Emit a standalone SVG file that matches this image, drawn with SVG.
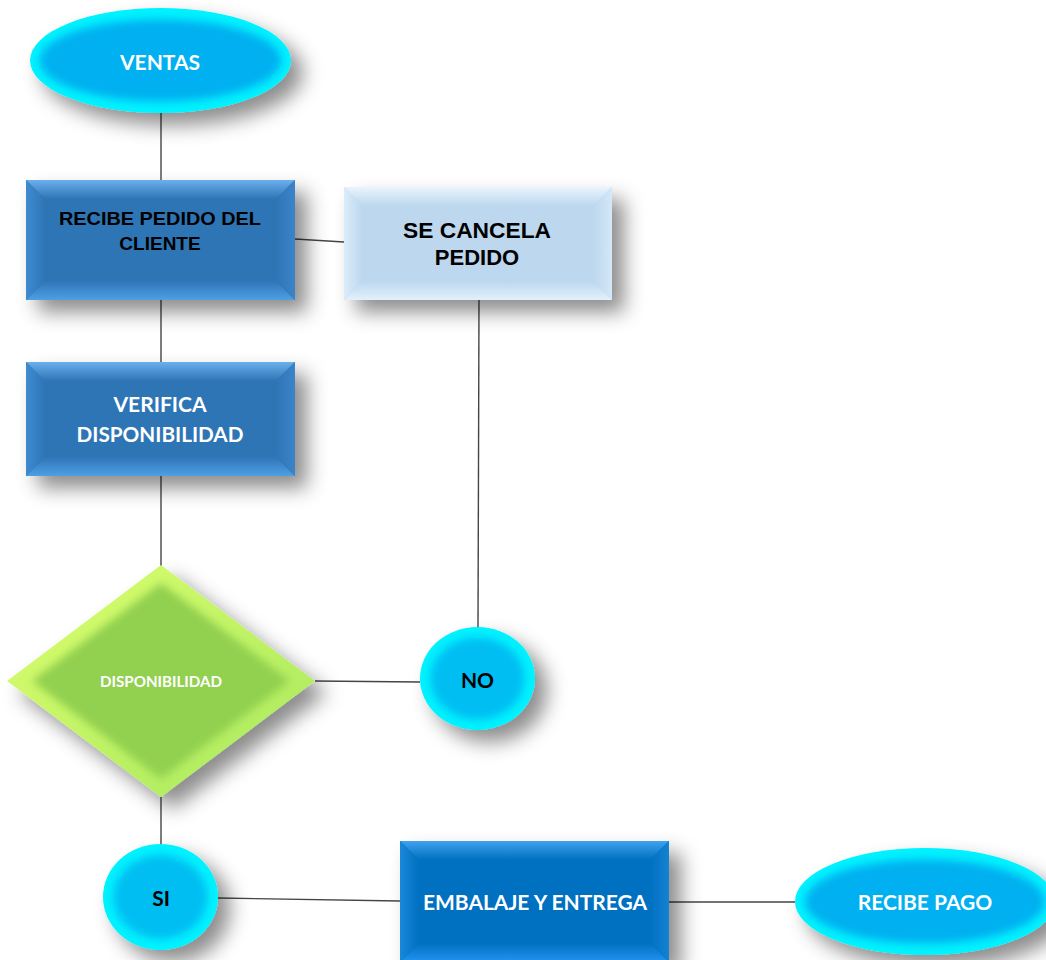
<svg xmlns="http://www.w3.org/2000/svg" width="1046" height="960" viewBox="0 0 1046 960">
  <style>
    .cal { font-family: Lato, "Open Sans", "Liberation Sans", sans-serif; font-weight: bold; text-anchor: middle; }
    .ari { font-family: "Liberation Sans", Arial, sans-serif; font-weight: bold; text-anchor: middle; fill: #000; }
    .w { fill: #ffffff; }
    .k { fill: #000000; }
    .conn line { stroke: #454545; stroke-width: 1.4; fill: none; }
    .sh { filter: url(#shadow); }
    .soft { filter: url(#soft); }
  </style>
  <defs>
    <filter id="shadow" x="-30%" y="-30%" width="180%" height="190%">
      <feDropShadow dx="12" dy="12" stdDeviation="10" flood-color="#000" flood-opacity="0.45"/>
    </filter>
    <filter id="soft" x="-20%" y="-20%" width="140%" height="140%">
      <feGaussianBlur stdDeviation="4"/>
    </filter>
    <linearGradient id="sbT" x1="0" y1="0" x2="0" y2="1"><stop offset="0" stop-color="#6BB0EC"/><stop offset="1" stop-color="#2E75B6"/></linearGradient>
    <linearGradient id="sbB" x1="0" y1="0" x2="0" y2="1"><stop offset="0" stop-color="#2E75B6"/><stop offset="1" stop-color="#4E9FE4"/></linearGradient>
    <linearGradient id="sbL" x1="0" y1="0" x2="1" y2="0"><stop offset="0" stop-color="#3F8BD0"/><stop offset="1" stop-color="#2E75B6"/></linearGradient>
    <linearGradient id="sbR" x1="0" y1="0" x2="1" y2="0"><stop offset="0" stop-color="#2E75B6"/><stop offset="1" stop-color="#3A84C8"/></linearGradient>
    <linearGradient id="bbT" x1="0" y1="0" x2="0" y2="1"><stop offset="0" stop-color="#3FA2EE"/><stop offset="1" stop-color="#0070C0"/></linearGradient>
    <linearGradient id="bbB" x1="0" y1="0" x2="0" y2="1"><stop offset="0" stop-color="#0070C0"/><stop offset="1" stop-color="#2294F0"/></linearGradient>
    <linearGradient id="bbL" x1="0" y1="0" x2="1" y2="0"><stop offset="0" stop-color="#1A88DA"/><stop offset="1" stop-color="#0070C0"/></linearGradient>
    <linearGradient id="bbR" x1="0" y1="0" x2="1" y2="0"><stop offset="0" stop-color="#0070C0"/><stop offset="1" stop-color="#1582D2"/></linearGradient>
    <linearGradient id="lbT" x1="0" y1="0" x2="0" y2="1"><stop offset="0" stop-color="#EAF4FD"/><stop offset="1" stop-color="#BDD7EE"/></linearGradient>
    <linearGradient id="lbB" x1="0" y1="0" x2="0" y2="1"><stop offset="0" stop-color="#BDD7EE"/><stop offset="1" stop-color="#E2F0FC"/></linearGradient>
    <linearGradient id="lbL" x1="0" y1="0" x2="1" y2="0"><stop offset="0" stop-color="#DCECFA"/><stop offset="1" stop-color="#BDD7EE"/></linearGradient>
    <linearGradient id="lbR" x1="0" y1="0" x2="1" y2="0"><stop offset="0" stop-color="#BDD7EE"/><stop offset="1" stop-color="#D4E8F8"/></linearGradient>
    <linearGradient id="dmO" x1="0" y1="0" x2="1" y2="1"><stop offset="0" stop-color="#DDFF6E"/><stop offset="1" stop-color="#A6E85E"/></linearGradient>
  </defs>

  <g id="connectors" class="conn">
    <line x1="161" y1="113" x2="161" y2="180"/>
    <line x1="161" y1="300" x2="161" y2="362"/>
    <line x1="161" y1="476" x2="161" y2="566"/>
    <line x1="295" y1="239" x2="344" y2="242"/>
    <line x1="479" y1="300" x2="478" y2="628"/>
    <line x1="315" y1="681" x2="420" y2="682"/>
    <line x1="161" y1="797" x2="161" y2="845"/>
    <line x1="218" y1="898" x2="400" y2="901"/>
    <line x1="669" y1="902" x2="795" y2="902"/>
  </g>

  <g id="ventas">
    <ellipse class="sh" cx="160.5" cy="60.5" rx="130.5" ry="52.5" fill="#00F2FF"/>
    <ellipse class="soft" cx="160.5" cy="60.5" rx="121" ry="41" fill="#00B0F0"/>
    <text class="cal w" x="160" y="70" font-size="21">VENTAS</text>
  </g>

  <g id="recibe-pedido">
    <rect class="sh" x="26" y="180" width="269" height="120" fill="#2E75B6"/>
    <polygon points="26,180 295,180 276,199 45,199" fill="url(#sbT)"/>
    <polygon points="45,281 276,281 295,300 26,300" fill="url(#sbB)"/>
    <polygon points="26,180 45,199 45,281 26,300" fill="url(#sbL)"/>
    <polygon points="276,199 295,180 295,300 276,281" fill="url(#sbR)"/>
    <text class="ari" x="160" y="225" font-size="19" textLength="202" lengthAdjust="spacingAndGlyphs">RECIBE PEDIDO DEL</text>
    <text class="ari" x="160" y="250" font-size="19">CLIENTE</text>
  </g>

  <g id="se-cancela">
    <rect class="sh" x="344" y="187" width="268" height="113" fill="#BDD7EE"/>
    <polygon points="344,187 612,187 593,206 363,206" fill="url(#lbT)"/>
    <polygon points="363,281 593,281 612,300 344,300" fill="url(#lbB)"/>
    <polygon points="344,187 363,206 363,281 344,300" fill="url(#lbL)"/>
    <polygon points="593,206 612,187 612,300 593,281" fill="url(#lbR)"/>
    <text class="ari" x="477" y="238" font-size="22" textLength="148" lengthAdjust="spacingAndGlyphs">SE CANCELA</text>
    <text class="ari" x="477" y="265" font-size="22">PEDIDO</text>
  </g>

  <g id="verifica">
    <rect class="sh" x="26" y="362" width="269" height="114" fill="#2E75B6"/>
    <polygon points="26,362 295,362 276,381 45,381" fill="url(#sbT)"/>
    <polygon points="45,457 276,457 295,476 26,476" fill="url(#sbB)"/>
    <polygon points="26,362 45,381 45,457 26,476" fill="url(#sbL)"/>
    <polygon points="276,381 295,362 295,476 276,457" fill="url(#sbR)"/>
    <text class="cal w" x="160" y="412" font-size="21">VERIFICA</text>
    <text class="cal w" x="160" y="442" font-size="21" textLength="167" lengthAdjust="spacingAndGlyphs">DISPONIBILIDAD</text>
  </g>

  <g id="disponibilidad">
    <polygon class="sh" points="161,565 315,681 161,797 7,681" fill="url(#dmO)"/>
    <polygon class="soft" points="161,583 290,681 161,779 32,681" fill="#92D050"/>
    <text class="cal w" x="161" y="687" font-size="15" textLength="122" lengthAdjust="spacingAndGlyphs">DISPONIBILIDAD</text>
  </g>

  <g id="no">
    <ellipse class="sh" cx="477.5" cy="678.5" rx="57.5" ry="51.5" fill="#00F2FF"/>
    <ellipse class="soft" cx="477.5" cy="678.5" rx="47" ry="41" fill="#00BEF2"/>
    <text class="cal k" x="477.5" y="688" font-size="21">NO</text>
  </g>

  <g id="si">
    <ellipse class="sh" cx="160.5" cy="897" rx="57.5" ry="53" fill="#00F2FF"/>
    <ellipse class="soft" cx="160.5" cy="897" rx="47" ry="42" fill="#00BEF2"/>
    <text class="cal k" x="161" y="906" font-size="21">SI</text>
  </g>

  <g id="embalaje">
    <rect class="sh" x="400" y="841" width="269" height="121" fill="#0070C0"/>
    <polygon points="400,841 669,841 650,860 419,860" fill="url(#bbT)"/>
    <polygon points="419,943 650,943 669,962 400,962" fill="url(#bbB)"/>
    <polygon points="400,841 419,860 419,943 400,962" fill="url(#bbL)"/>
    <polygon points="650,860 669,841 669,962 650,943" fill="url(#bbR)"/>
    <text class="cal w" x="535" y="910" font-size="21" textLength="224" lengthAdjust="spacingAndGlyphs">EMBALAJE Y ENTREGA</text>
  </g>

  <g id="recibe-pago">
    <ellipse class="sh" cx="925" cy="901.5" rx="130" ry="53.5" fill="#00F2FF"/>
    <ellipse class="soft" cx="925" cy="901.5" rx="120" ry="42" fill="#00B0F0"/>
    <text class="cal w" x="925" y="910" font-size="21">RECIBE PAGO</text>
  </g>
</svg>
